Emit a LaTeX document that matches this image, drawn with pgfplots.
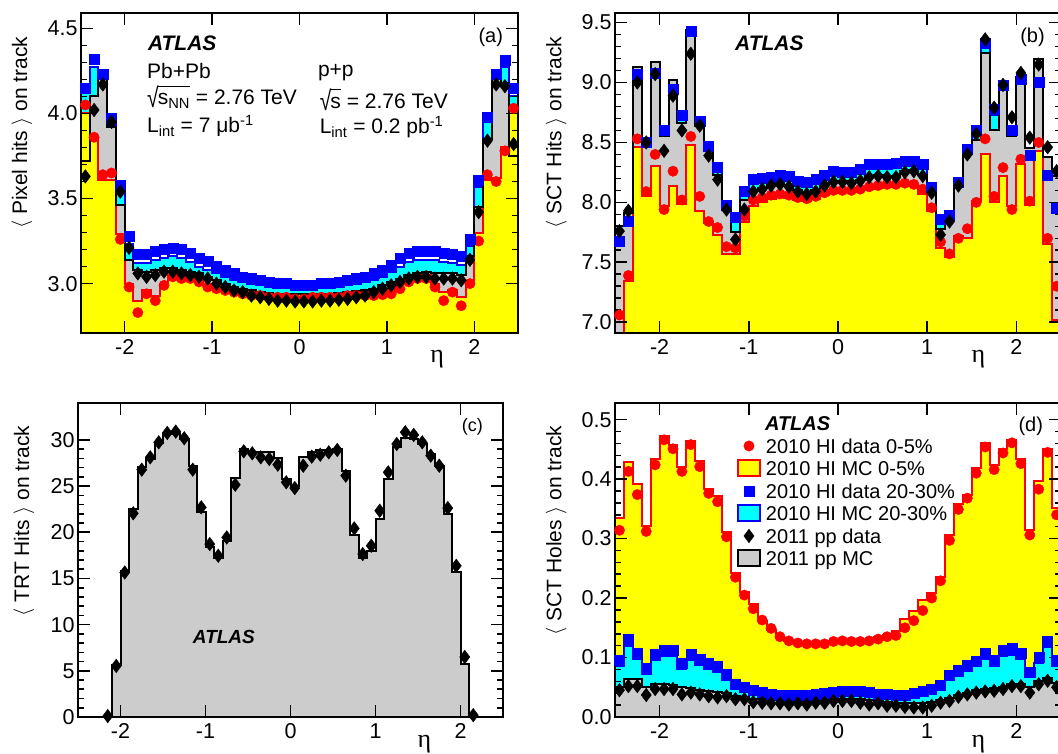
\documentclass[border=0pt]{standalone}
\usepackage{fontspec}
\setmainfont{Liberation Sans}
\newfontfamily\seriffont{Liberation Serif}
\usepackage{amsmath}
\usepackage{graphicx}
\usepackage{pgfplots}
\usepackage{pgfplotstable}
\pgfplotsset{compat=1.18}

\newcommand{\fs}[1]{\fontsize{#1}{#1}\selectfont}
\definecolor{rootgrey}{RGB}{204,204,204}
\definecolor{rootyellow}{RGB}{255,255,0}
\definecolor{rootcyan}{RGB}{0,255,255}
\definecolor{rootblue}{RGB}{0,0,255}
\definecolor{rootred}{RGB}{255,0,0}

% text radical: a stretched glyph plus a bar over the radicand
\newlength\sqw
\newlength\sqh
\newsavebox\sqbox
\newcommand{\rsq}[1]{\sbox\sqbox{\raisebox{-0.12em}{\scalebox{1}[1.3]{√}}}%
  \settowidth{\sqw}{#1}\setlength{\sqh}{\ht\sqbox}\addtolength{\sqh}{-0.065em}%
  \usebox\sqbox\kern-0.04em\rlap{\rule[\sqh]{\sqw}{0.065em}}#1}

% columns: bin left edge, HI MC 0-5%, HI MC 20-30%, pp MC, HI data 0-5%, HI data 20-30%, pp data
% last row closes the last bin (x=2.5)
\pgfplotstableread{
x    yel   cya   gry   red   blu   dia
-2.5 4.00  4.12  3.72  4.05  4.15  3.63
-2.4 3.86  4.27  4.10  3.86  4.32  4.02
-2.3 3.61  4.19  4.20  3.64  4.23  4.17
-2.2 3.61  3.93  3.92  3.65  3.97  3.95
-2.1 3.29  3.54  3.46  3.26  3.58  3.54
-2.0 3.00  3.23  3.14  2.98  3.28  3.21
-1.9 2.90  3.12  3.08  2.83  3.17  3.06
-1.8 2.96  3.12  3.07  2.94  3.17  3.04
-1.7 2.93  3.14  3.08  2.90  3.19  3.05
-1.6 3.00  3.15  3.09  2.99  3.20  3.07
-1.5 3.05  3.16  3.09  3.04  3.21  3.07
-1.4 3.04  3.15  3.08  3.03  3.20  3.06
-1.3 3.03  3.13  3.07  3.03  3.18  3.05
-1.2 3.01  3.10  3.06  3.01  3.15  3.04
-1.1 2.99  3.08  3.04  2.98  3.13  3.03
-1.0 2.98  3.06  3.02  2.97  3.10  3.00
-0.9 2.97  3.04  3.00  2.96  3.08  2.98
-0.8 2.96  3.02  2.98  2.95  3.06  2.96
-0.7 2.955 3.01  2.97  2.94  3.04  2.95
-0.6 2.95  3.00  2.96  2.93  3.03  2.93
-0.5 2.945 2.99  2.95  2.93  3.02  2.92
-0.4 2.94  2.985 2.945 2.92  3.01  2.91
-0.3 2.94  2.98  2.94  2.92  3.00  2.90
-0.2 2.94  2.975 2.94  2.92  3.00  2.90
-0.1 2.94  2.97  2.94  2.91  2.99  2.895
 0.0 2.94  2.97  2.94  2.91  2.99  2.895
 0.1 2.94  2.97  2.94  2.92  2.99  2.895
 0.2 2.94  2.975 2.94  2.92  3.00  2.90
 0.3 2.94  2.98  2.94  2.92  3.00  2.90
 0.4 2.94  2.985 2.945 2.92  3.01  2.905
 0.5 2.945 2.99  2.95  2.93  3.02  2.91
 0.6 2.95  3.00  2.955 2.93  3.03  2.92
 0.7 2.955 3.01  2.96  2.93  3.04  2.93
 0.8 2.96  3.02  2.97  2.93  3.06  2.95
 0.9 2.965 3.04  2.99  2.935 3.08  2.97
 1.0 2.97  3.07  3.01  2.94  3.11  2.99
 1.1 3.00  3.10  3.03  2.97  3.15  3.01
 1.2 3.02  3.13  3.05  3.01  3.18  3.03
 1.3 3.04  3.14  3.06  3.03  3.19  3.04
 1.4 3.05  3.14  3.07  3.03  3.19  3.04
 1.5 3.00  3.14  3.06  2.98  3.19  3.03
 1.6 2.95  3.13  3.06  2.90  3.18  3.03
 1.7 2.96  3.12  3.06  2.95  3.17  3.03
 1.8 2.92  3.11  3.05  2.87  3.16  3.02
 1.9 3.00  3.22  3.16  3.00  3.26  3.14
 2.0 3.30  3.57  3.45  3.25  3.61  3.42
 2.1 3.61  3.95  3.85  3.64  3.98  3.84
 2.2 3.62  4.19  4.20  3.60  4.23  4.17
 2.3 3.80  4.27  4.18  3.78  4.31  4.16
 2.4 4.02  4.10  3.75  4.03  4.15  3.82
 2.5 4.02  4.10  3.75  4.03  4.15  3.82
}\tabA

\pgfplotstableread{
x    yel   cya   gry   red   blu   dia
-2.5 6.90  7.64  7.80  7.06  7.68  7.76
-2.4 7.34  7.80  7.91  7.39  7.84  7.93
-2.3 8.46  9.03  9.13  8.53  9.07  9.00
-2.2 8.05  8.46  8.46  8.09  8.50  8.50
-2.1 8.30  9.04  9.17  8.40  9.08  9.07
-2.0 7.97  8.56  8.55  7.94  8.60  8.43
-1.9 8.14  8.90  9.02  8.26  8.94  8.89
-1.8 7.99  8.69  8.66  8.02  8.73  8.60
-1.7 8.48  9.39  9.44  8.55  9.43  9.24
-1.6 7.93  8.64  8.64  8.05  8.68  8.64
-1.5 7.83  8.43  8.43  7.84  8.47  8.39
-1.4 7.73  8.25  8.23  7.79  8.29  8.19
-1.3 7.565 7.94  7.97  7.63  7.98  7.94
-1.2 7.565 7.84  7.75  7.62  7.88  7.69
-1.1 7.84  8.05  8.02  7.885 8.09  7.94
-1.0 7.97  8.15  8.10  8.02  8.19  8.09
-0.9 8.00  8.16  8.12  8.04  8.20  8.11
-0.8 8.03  8.17  8.15  8.06  8.21  8.14
-0.7 8.05  8.19  8.16  8.07  8.23  8.15
-0.6 8.04  8.18  8.14  8.06  8.22  8.13
-0.5 8.02  8.14  8.10  8.04  8.18  8.09
-0.4 8.01  8.13  8.08  8.03  8.17  8.07
-0.3 8.03  8.15  8.10  8.05  8.19  8.09
-0.2 8.06  8.19  8.15  8.08  8.23  8.14
-0.1 8.08  8.22  8.18  8.10  8.26  8.17
 0.0 8.09  8.21  8.18  8.10  8.25  8.17
 0.1 8.09  8.21  8.17  8.10  8.25  8.16
 0.2 8.10  8.24  8.19  8.11  8.28  8.18
 0.3 8.11  8.28  8.22  8.13  8.32  8.21
 0.4 8.12  8.28  8.23  8.14  8.32  8.22
 0.5 8.13  8.28  8.22  8.15  8.32  8.21
 0.6 8.14  8.29  8.22  8.15  8.33  8.21
 0.7 8.14  8.30  8.26  8.16  8.34  8.25
 0.8 8.14  8.30  8.27  8.15  8.34  8.26
 0.9 8.07  8.28  8.23  8.11  8.32  8.22
 1.0 7.93  8.09  8.10  7.955 8.13  8.08
 1.1 7.62  7.82  7.78  7.67  7.86  7.73
 1.2 7.54  7.85  7.86  7.57  7.89  7.84
 1.3 7.72  8.13  8.15  7.70  8.17  8.14
 1.4 7.70  8.40  8.45  7.78  8.44  8.40
 1.5 8.01  8.56  8.52  8.00  8.60  8.57
 1.6 8.40  9.29  9.25  8.53  9.33  9.36
 1.7 8.00  8.73  8.60  8.05  8.78  8.79
 1.8 8.22  8.94  9.00  8.29  8.98  8.98
 1.9 7.97  8.56  8.55  7.94  8.60  8.71
 2.0 8.32  8.99  9.05  8.36  9.03  9.08
 2.1 7.98  8.35  8.45  8.01  8.39  8.54
 2.2 8.43  8.96  9.20  8.50  9.00  9.15
 2.3 7.65  8.16  8.38  7.70  8.23  8.46
 2.4 7.02  7.79  8.22  7.30  7.95  8.26
 2.5 7.02  7.79  8.22  7.30  7.95  8.26
}\tabB

\pgfplotstableread{
x    gry   dia
-2.5 0     nan
-2.4 0     nan
-2.3 0     nan
-2.2 0     0.1
-2.1 5.6   5.53
-2.0 15.8  15.65
-1.9 22.5  22.05
-1.8 27.1  26.78
-1.7 27.9  28.12
-1.6 29.7  29.74
-1.5 30.6  30.75
-1.4 30.7  30.9
-1.3 30.1  30.18
-1.2 27.2  26.78
-1.1 22.15 22.7
-1.0 18.36 18.72
-0.9 17.2  17.46
-0.8 19.08 19.44
-0.7 25.9  25.15
-0.6 29.02 28.77
-0.5 28.73 28.55
-0.4 28.73 28.12
-0.3 28.66 27.94
-0.2 28.0  27.32
-0.1 25.77 25.41
 0.0 25.04 24.79
 0.1 28.12 27.21
 0.2 28.73 28.19
 0.3 28.91 28.4
 0.4 28.91 28.66
 0.5 29.02 28.91
 0.6 26.67 26.13
 0.7 19.73 20.42
 0.8 17.27 17.64
 0.9 18.0  18.54
 1.0 21.43 22.33
 1.1 25.77 26.49
 1.2 29.27 29.56
 1.3 30.18 30.83
 1.4 30.1  30.54
 1.5 29.56 29.74
 1.6 28.48 28.3
 1.7 27.21 27.21
 1.8 21.97 22.62
 1.9 15.65 16.37
 2.0 5.7   6.5
 2.1 0     0.2
 2.2 0     nan
 2.3 0     nan
 2.4 0     nan
 2.5 0     nan
}\tabC

\pgfplotstableread{
x    yel   cya   gry   red    blu   dia
-2.5 0.334 0.085 0.050 0.314  0.095 0.045
-2.4 0.428 0.120 0.064 0.413  0.130 0.052
-2.3 0.392 0.098 0.064 0.374  0.108 0.052
-2.2 0.321 0.072 0.050 0.312  0.082 0.037
-2.1 0.433 0.096 0.055 0.424  0.106 0.047
-2.0 0.472 0.103 0.055 0.466  0.113 0.047
-1.9 0.458 0.103 0.053 0.451  0.113 0.047
-1.8 0.420 0.080 0.050 0.413  0.090 0.038
-1.7 0.464 0.096 0.048 0.458  0.106 0.041
-1.6 0.430 0.087 0.046 0.421  0.097 0.038
-1.5 0.383 0.081 0.044 0.376  0.091 0.035
-1.4 0.371 0.076 0.042 0.362  0.086 0.033
-1.3 0.311 0.063 0.040 0.303  0.072 0.035
-1.2 0.242 0.047 0.036 0.235  0.055 0.030
-1.1 0.210 0.042 0.034 0.205  0.050 0.030
-1.0 0.190 0.038 0.031 0.182  0.045 0.025
-0.9 0.162 0.035 0.030 0.163  0.042 0.024
-0.8 0.146 0.031 0.029 0.149  0.038 0.023
-0.7 0.133 0.030 0.028 0.135  0.036 0.023
-0.6 0.128 0.030 0.027 0.128  0.036 0.021
-0.5 0.126 0.031 0.027 0.1245 0.037 0.023
-0.4 0.124 0.031 0.027 0.123  0.037 0.021
-0.3 0.124 0.032 0.028 0.123  0.038 0.024
-0.2 0.126 0.034 0.029 0.123  0.040 0.024
-0.1 0.127 0.036 0.030 0.127  0.042 0.027
 0.0 0.127 0.038 0.031 0.128  0.044 0.027
 0.1 0.127 0.038 0.031 0.127  0.044 0.027
 0.2 0.128 0.037 0.030 0.127  0.043 0.024
 0.3 0.130 0.035 0.028 0.128  0.041 0.021
 0.4 0.134 0.033 0.027 0.131  0.039 0.023
 0.5 0.138 0.032 0.025 0.135  0.038 0.019
 0.6 0.144 0.031 0.024 0.137  0.037 0.019
 0.7 0.165 0.031 0.023 0.150  0.037 0.017
 0.8 0.178 0.034 0.023 0.162  0.040 0.016
 0.9 0.196 0.036 0.023 0.179  0.043 0.016
 1.0 0.208 0.040 0.025 0.200  0.047 0.019
 1.1 0.235 0.046 0.028 0.229  0.053 0.024
 1.2 0.306 0.062 0.032 0.297  0.070 0.027
 1.3 0.358 0.069 0.037 0.349  0.078 0.034
 1.4 0.374 0.078 0.041 0.368  0.087 0.038
 1.5 0.419 0.085 0.045 0.410  0.094 0.041
 1.6 0.461 0.098 0.047 0.454  0.108 0.043
 1.7 0.423 0.086 0.049 0.416  0.096 0.044
 1.8 0.450 0.103 0.051 0.444  0.113 0.047
 1.9 0.466 0.105 0.055 0.461  0.115 0.052
 2.0 0.433 0.098 0.056 0.426  0.108 0.052
 2.1 0.314 0.067 0.050 0.306  0.076 0.041
 2.2 0.396 0.090 0.060 0.383  0.100 0.055
 2.3 0.450 0.118 0.065 0.445  0.128 0.061
 2.4 0.351 0.085 0.058 0.340  0.095 0.050
 2.5 0.351 0.085 0.058 0.340  0.095 0.050
}\tabD

\pgfplotsset{
  panel/.style={
    scale only axis, axis on top, anchor=south west,
    xmin=-2.5, xmax=2.5,
    xtick={-2,-1,0,1,2}, xticklabels={-2,-1,0,1,2},
    minor x tick num=0, minor y tick num=4,
    tick align=inside,
    major tick length=12pt, minor tick length=6pt,
    every tick/.style={black, line width=1.6pt},
    axis line style={line width=2pt},
    ticklabel style={font=\fs{21.5}},
    xticklabel style={yshift=-3pt},
    xlabel={\seriffont η},
    xlabel style={at={(axis description cs:0.815,0)}, anchor=base, yshift=-30pt, font=\fs{26}},
    ylabel style={anchor=east, font=\fs{21}},
  },
  hist/.style={const plot, line width=2pt},
  dat0/.style={only marks, mark=*, color=rootred, mark size=5.2pt, mark options={line width=0.4pt}},
  dat20/.style={only marks, mark=square*, color=rootblue, mark size=5pt, mark options={line width=0.4pt}},
  datpp/.style={only marks, mark=diamond*, color=black, mark size=6.8pt, mark options={line width=0.4pt}},
}
\tikzset{tag/.style={anchor=base west, inner sep=0pt, font=\fs{21}}}

\begin{document}
\begin{tikzpicture}

% (a) pixel hits
\begin{axis}[panel, at={(81pt,420pt)}, width=437pt, height=320pt,
  ymin=2.71, ymax=4.59, ytick={3,3.5,4,4.5}, yticklabels={3.0,3.5,4.0,4.5},
  ylabel={$\langle$ Pixel hits $\rangle$ on track},
  ylabel style={at={(axis description cs:-0.135,0.9375)}}]
\addplot[hist, fill=rootcyan, draw=rootblue] table[x=x, y=cya] {\tabA} \closedcycle;
\addplot[hist, fill=rootgrey, draw=none] table[x=x, y=gry] {\tabA} \closedcycle;
\addplot[hist, fill=rootyellow, draw=rootred] table[x=x, y=yel] {\tabA} \closedcycle;
\addplot[hist, draw=black] table[x=x, y=gry] {\tabA};
\addplot[dat0, skip coords between index={50}{51}] table[x expr=\thisrow{x}+0.05, y=red] {\tabA};
\addplot[dat20, skip coords between index={50}{51}] table[x expr=\thisrow{x}+0.05, y=blu] {\tabA};
\addplot[datpp, skip coords between index={50}{51}] table[x expr=\thisrow{x}+0.05, y=dia] {\tabA};
\node[tag, font=\fs{21}\bfseries\itshape] at (rel axis cs:0.153,0.884) {ATLAS};
\node[tag] at (rel axis cs:0.151,0.794) {Pb+Pb};
\node[tag] at (rel axis cs:0.151,0.7125) {\rsq{s\textsubscript{NN}} = 2.76 TeV};
\node[tag] at (rel axis cs:0.151,0.625) {L\textsubscript{int} = 7 μb\textsuperscript{-1}};
\node[tag] at (rel axis cs:0.542,0.80) {p+p};
\node[tag] at (rel axis cs:0.546,0.703) {\rsq{s} = 2.76 TeV};
\node[tag] at (rel axis cs:0.546,0.622) {L\textsubscript{int} = 0.2 pb\textsuperscript{-1}};
\node[anchor=east, inner sep=0pt, font=\fs{20}] at (rel axis cs:0.966,0.925) {(a)};
\end{axis}

% (b) SCT hits
\begin{axis}[panel, at={(615pt,420pt)}, width=446pt, height=320pt,
  ymin=6.91, ymax=9.58, ytick={7,7.5,8,8.5,9,9.5}, yticklabels={7.0,7.5,8.0,8.5,9.0,9.5},
  ylabel={$\langle$ SCT Hits $\rangle$ on track},
  ylabel style={at={(axis description cs:-0.132,0.9375)}}]
\addplot[hist, fill=rootcyan, draw=rootblue] table[x=x, y=cya] {\tabB} \closedcycle;
\addplot[hist, fill=rootgrey, draw=none] table[x=x, y=gry] {\tabB} \closedcycle;
\addplot[hist, fill=rootyellow, draw=rootred] table[x=x, y=yel] {\tabB} \closedcycle;
\addplot[hist, draw=black] table[x=x, y=gry] {\tabB};
\addplot[dat0, skip coords between index={50}{51}] table[x expr=\thisrow{x}+0.05, y=red] {\tabB};
\addplot[dat20, skip coords between index={50}{51}] table[x expr=\thisrow{x}+0.05, y=blu] {\tabB};
\addplot[datpp, skip coords between index={50}{51}] table[x expr=\thisrow{x}+0.05, y=dia] {\tabB};
\node[tag, font=\fs{21}\bfseries\itshape] at (rel axis cs:0.269,0.884) {ATLAS};
\node[anchor=east, inner sep=0pt, font=\fs{20}] at (rel axis cs:0.964,0.925) {(b)};
\end{axis}

% (c) TRT hits
\begin{axis}[panel, at={(78pt,36pt)}, width=425pt, height=314pt,
  ymin=0, ymax=34, ytick={0,5,10,15,20,25,30}, yticklabels={0,5,10,15,20,25,30},
  ylabel={$\langle$ TRT Hits $\rangle$ on track},
  ylabel style={at={(axis description cs:-0.127,0.939)}}]
\addplot[hist, fill=rootgrey, draw=black] table[x=x, y=gry] {\tabC} \closedcycle;
\addplot[datpp, skip coords between index={50}{51}] table[x expr=\thisrow{x}+0.05, y=dia] {\tabC};
\node[tag, font=\fs{19}\bfseries\itshape] at (rel axis cs:0.27,0.2325) {ATLAS};
\node[anchor=east, inner sep=0pt, font=\fs{18}] at (rel axis cs:0.953,0.9236) {(c)};
\end{axis}

% (d) SCT holes
\begin{axis}[panel, at={(615pt,36pt)}, width=446pt, height=314pt,
  ymin=0, ymax=0.528, ytick={0,0.1,0.2,0.3,0.4,0.5}, yticklabels={0.0,0.1,0.2,0.3,0.4,0.5},
  ylabel={$\langle$ SCT Holes $\rangle$ on track},
  ylabel style={at={(axis description cs:-0.132,0.939)}},
  legend style={at={(rel axis cs:0.2735,0.899)}, anchor=north west, draw=none, fill=none,
    inner sep=0pt, outer sep=0pt, row sep=0pt, column sep=5pt, font=\fs{20},
    nodes={inner sep=0pt, text height=18.5pt, text depth=4pt}},
  legend cell align=left]
\addplot[hist, fill=rootyellow, draw=rootred, forget plot] table[x=x, y=yel] {\tabD} \closedcycle;
\addplot[hist, fill=rootcyan, draw=rootblue, forget plot] table[x=x, y=cya] {\tabD} \closedcycle;
\addplot[hist, fill=rootgrey, draw=black, forget plot] table[x=x, y=gry] {\tabD} \closedcycle;
\addplot[dat0, forget plot, skip coords between index={50}{51}] table[x expr=\thisrow{x}+0.05, y=red] {\tabD};
\addplot[dat20, forget plot, skip coords between index={50}{51}] table[x expr=\thisrow{x}+0.05, y=blu] {\tabD};
\addplot[datpp, forget plot, skip coords between index={50}{51}] table[x expr=\thisrow{x}+0.05, y=dia] {\tabD};
\addlegendimage{legend image code/.code={\draw[rootred, mark=*, mark size=5.2pt, only marks] plot coordinates {(11pt,0pt)};}}
\addlegendentry{2010 HI data 0-5\%}
\addlegendimage{legend image code/.code={\draw[fill=rootyellow, draw=rootred, line width=2pt] (0pt,-8pt) rectangle (22pt,8pt);}}
\addlegendentry{2010 HI MC 0-5\%}
\addlegendimage{legend image code/.code={\draw[rootblue, mark=square*, mark size=5pt, only marks] plot coordinates {(11pt,0pt)};}}
\addlegendentry{2010 HI data 20-30\%}
\addlegendimage{legend image code/.code={\draw[fill=rootcyan, draw=rootblue, line width=2pt] (0pt,-8pt) rectangle (22pt,8pt);}}
\addlegendentry{2010 HI MC 20-30\%}
\addlegendimage{legend image code/.code={\draw[black, mark=diamond*, mark size=6.8pt, only marks] plot coordinates {(11pt,0pt)};}}
\addlegendentry{2011 pp data}
\addlegendimage{legend image code/.code={\draw[fill=rootgrey, draw=black, line width=2pt] (0pt,-8pt) rectangle (22pt,8pt);}}
\addlegendentry{2011 pp MC}
\node[tag, font=\fs{20}\bfseries\itshape] at (rel axis cs:0.336,0.911) {ATLAS};
\node[anchor=east, inner sep=0pt, font=\fs{20}] at (rel axis cs:0.96,0.927) {(d)};
\end{axis}

\pgfresetboundingbox
\path[use as bounding box] (0pt,0pt) rectangle (1058pt,753pt);
\end{tikzpicture}
\end{document}
